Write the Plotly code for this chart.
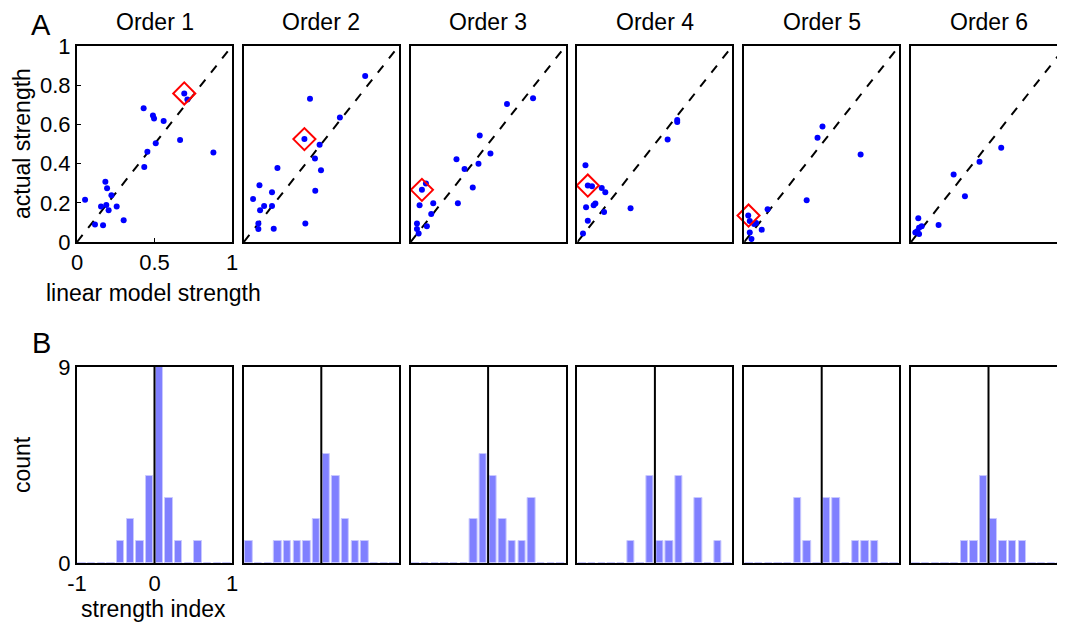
import plotly.graph_objects as go

W, H = 1065, 630
OFF = 8  # page body margin

orders = ["Order 1", "Order 2", "Order 3", "Order 4", "Order 5", "Order 6"]

# Panel A: linear model strength (x) vs actual strength (y)
lin_x = [
    [0.692, 0.712, 0.430, 0.490, 0.497, 0.559, 0.508, 0.665, 0.454, 0.880, 0.434,
     0.183, 0.194, 0.222, 0.052, 0.155, 0.189, 0.256, 0.204, 0.301, 0.116, 0.168],
    [0.783, 0.427, 0.620, 0.391, 0.489, 0.459, 0.498, 0.217, 0.101, 0.182, 0.060,
     0.461, 0.131, 0.182, 0.105, 0.094, 0.094, 0.193, 0.397],
    [0.790, 0.622, 0.446, 0.515, 0.296, 0.348, 0.438, 0.401, 0.305, 0.146, 0.058,
     0.073, 0.099, 0.133, 0.041, 0.041, 0.105, 0.052],
    [0.644, 0.644, 0.582, 0.052, 0.067, 0.094, 0.157, 0.180, 0.116, 0.105, 0.056,
     0.172, 0.343, 0.067, 0.036],
    [0.505, 0.473, 0.751, 0.403, 0.151, 0.026, 0.036, 0.064, 0.077, 0.113, 0.036, 0.047],
    [0.582, 0.442, 0.275, 0.348, 0.178, 0.047, 0.052, 0.069, 0.028, 0.052, 0.040],
]
act_y = [
    [0.758, 0.727, 0.683, 0.646, 0.630, 0.617, 0.504, 0.520, 0.460, 0.457, 0.383,
     0.307, 0.274, 0.238, 0.215, 0.181, 0.189, 0.181, 0.162, 0.111, 0.089, 0.085],
    [0.847, 0.731, 0.635, 0.525, 0.496, 0.426, 0.366, 0.378, 0.290, 0.254, 0.220,
     0.262, 0.184, 0.184, 0.162, 0.095, 0.066, 0.068, 0.095],
    [0.734, 0.704, 0.543, 0.451, 0.422, 0.373, 0.399, 0.278, 0.198, 0.198, 0.187,
     0.266, 0.298, 0.143, 0.095, 0.066, 0.080, 0.043],
    [0.622, 0.612, 0.523, 0.392, 0.288, 0.285, 0.276, 0.254, 0.196, 0.187, 0.177,
     0.153, 0.172, 0.109, 0.044],
    [0.589, 0.532, 0.446, 0.213, 0.167, 0.135, 0.107, 0.092, 0.097, 0.063, 0.049, 0.015],
    [0.481, 0.410, 0.345, 0.234, 0.087, 0.121, 0.073, 0.080, 0.048, 0.041, 0.055],
]
hl_x = [0.692, 0.391, 0.073, 0.067, 0.028, None]
hl_y = [0.758, 0.525, 0.266, 0.288, 0.135, None]

# Panel B: strength index histograms
bin_centers = [-0.9375, -0.8125, -0.6875, -0.5625, -0.4375, -0.3125, -0.1875, -0.0625,
               0.0625, 0.1875, 0.3125, 0.4375, 0.5625, 0.6875, 0.8125, 0.9375]
hist_counts = [
    [0, 0, 0, 0, 1, 2, 1, 4, 9, 3, 1, 0, 1, 0, 0, 0],
    [1, 0, 0, 1, 1, 1, 1, 2, 5, 4, 2, 1, 1, 0, 0, 0],
    [0, 0, 0, 0, 0, 0, 2, 5, 4, 2, 1, 1, 3, 0, 0, 0],
    [0, 0, 0, 0, 0, 1, 0, 4, 1, 1, 4, 0, 3, 0, 1, 0],
    [0, 0, 0, 0, 0, 3, 1, 0, 3, 3, 0, 1, 1, 1, 0, 0],
    [0, 0, 0, 0, 0, 1, 1, 4, 2, 1, 1, 1, 0, 0, 0, 0],
]

FONT = "Liberation Sans, Arial, Helvetica, sans-serif"
TICK = 22
LAB = 23
fig = go.Figure()


def fx(p):
    return (p - OFF) / W


def fy(p):
    return 1 - (p - OFF) / H


PW = 155.0
lefts = [77 + i * 166.8 for i in range(6)]
top_A, bot_A = 46, 242
top_B, bot_B = 367, 563

layout = {}
for i in range(6):
    l = lefts[i]
    r = l + PW
    xd = [fx(l), fx(r)]
    xa = f"x{2*i+1}"
    ya = f"y{2*i+1}"
    xb = f"x{2*i+2}"
    yb = f"y{2*i+2}"
    common = dict(showline=True, linecolor="black", linewidth=2, showgrid=False,
                  zeroline=False, ticklen=4, tickcolor="black", automargin=False,
                  tickfont=dict(size=TICK, family=FONT, color="black"))
    layout["xaxis" + str(2*i+1)] = dict(common, domain=xd, range=[0, 1], anchor=ya,
                                        mirror=True,
                                        tickvals=[0, 0.5, 1], ticktext=["0", "0.5", "1"],
                                        showticklabels=(i == 0), ticks=("inside" if i == 0 else ""))
    layout["yaxis" + str(2*i+1)] = dict(common, domain=[fy(bot_A), fy(top_A)], range=[0, 1],
                                        anchor=xa, mirror=True,
                                        tickvals=[0, 0.2, 0.4, 0.6, 0.8, 1],
                                        ticktext=["0", "0.2", "0.4", "0.6", "0.8", "1"],
                                        showticklabels=(i == 0), ticks=("inside" if i == 0 else ""))
    layout["xaxis" + str(2*i+2)] = dict(common, domain=xd, range=[-1, 1], anchor=yb,
                                        mirror=True,
                                        tickvals=[-1, 0, 1], ticktext=["-1", "0", "1"],
                                        showticklabels=(i == 0), ticks=("inside" if i == 0 else ""))
    layout["yaxis" + str(2*i+2)] = dict(common, domain=[fy(bot_B), fy(top_B)], range=[0, 9],
                                        anchor=xb, mirror=True,
                                        tickvals=[0, 9], ticktext=["0", "9"],
                                        showticklabels=(i == 0), ticks=("inside" if i == 0 else ""))

    fig.add_trace(go.Scatter(x=[0, 1], y=[0, 1], mode="lines", xaxis=xa, yaxis=ya,
                             line=dict(color="black", width=2, dash="dash"), showlegend=False))
    fig.add_trace(go.Scatter(x=lin_x[i], y=act_y[i], mode="markers", xaxis=xa, yaxis=ya,
                             marker=dict(color="blue", size=6), showlegend=False))
    if hl_x[i] is not None:
        fig.add_trace(go.Scatter(x=[hl_x[i]], y=[hl_y[i]], mode="markers", xaxis=xa, yaxis=ya,
                                 marker=dict(symbol="diamond-open", color="red", size=17,
                                             line=dict(width=2, color="red")),
                                 showlegend=False, cliponaxis=False))
    fig.add_trace(go.Bar(x=bin_centers, y=hist_counts[i], xaxis=xb, yaxis=yb, width=0.095,
                         marker=dict(color="rgb(128,128,255)",
                                     line=dict(color="rgb(200,200,255)", width=1)),
                         showlegend=False))
    fig.add_trace(go.Scatter(x=[0, 0], y=[0, 9], mode="lines", xaxis=xb, yaxis=yb,
                             line=dict(color="black", width=2), showlegend=False))

annotations = []
for i in range(6):
    cx = fx(lefts[i] + PW / 2)
    annotations.append(dict(text=orders[i], x=cx, y=1, xref="paper", yref="paper",
                            showarrow=False, font=dict(size=LAB, family=FONT, color="black"),
                            xanchor="center", yanchor="top", borderpad=0))
annotations += [
    dict(text="A", x=fx(41), y=1, xref="paper", yref="paper", showarrow=False, borderpad=0,
         font=dict(size=29, family=FONT, color="black"), xanchor="center", yanchor="top"),
    dict(text="B", x=fx(41), y=fy(343), xref="paper", yref="paper", showarrow=False,
         font=dict(size=29, family=FONT, color="black"), xanchor="center", yanchor="middle"),
    dict(text="actual strength", x=fx(22), y=fy(144), xref="paper", yref="paper",
         showarrow=False, textangle=-90, font=dict(size=LAB, family=FONT, color="black"),
         xanchor="center", yanchor="middle"),
    dict(text="linear model strength", x=fx(153), y=fy(293), xref="paper", yref="paper",
         showarrow=False, font=dict(size=LAB, family=FONT, color="black"),
         xanchor="center", yanchor="middle"),
    dict(text="count", x=fx(22), y=fy(465), xref="paper", yref="paper",
         showarrow=False, textangle=-90, font=dict(size=LAB, family=FONT, color="black"),
         xanchor="center", yanchor="middle"),
    dict(text="strength index", x=fx(153), y=fy(609), xref="paper", yref="paper",
         showarrow=False, font=dict(size=LAB, family=FONT, color="black"),
         xanchor="center", yanchor="middle"),
]

fig.update_layout(width=W, height=H, margin=dict(l=0, r=0, t=0, b=0),
                  paper_bgcolor="white", plot_bgcolor="white", bargap=0,
                  annotations=annotations, **layout)

fig.write_html("out.html")
